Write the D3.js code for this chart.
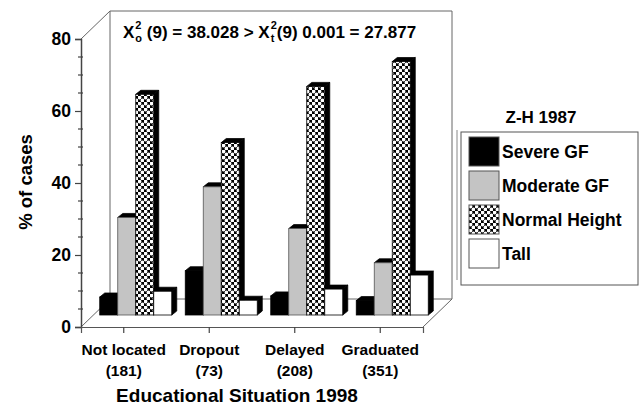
<!DOCTYPE html>
<html>
<head>
<meta charset="utf-8">
<script src="https://cdn.jsdelivr.net/npm/d3@7"></script>
<style>
    body { margin: 0; background: #fff; }
    text { font-family: "Liberation Sans", Arial, sans-serif; font-weight: bold; fill: #000; }
</style>
</head>
<body>
<div id="chart"></div>
<script>
// data
var groups = ['Not located', 'Dropout', 'Delayed', 'Graduated'];
var groupCounts = ['(181)', '(73)', '(208)', '(351)'];
var series = ['Severe GF', 'Moderate GF', 'Normal Height', 'Tall'];
var severeGF = [5.0, 12.3, 5.3, 4.0];
var moderateGF = [27.1, 35.6, 24.0, 14.5];
var normalHeight = [61.3, 47.9, 63.5, 70.4];
var tall = [6.6, 4.1, 7.2, 11.1];
var yTicks = [0, 20, 40, 60, 80];

var values = [severeGF, moderateGF, normalHeight, tall];

var width = 640,
    height = 406,
    left = 81,
    right = 423,
    wallDx = 29, wallDy = -28,   // depth of the floor / back wall
    barDx = 12, barDy = -12,     // where bars sit in depth
    depthX = 5, depthY = -4,     // thickness of each bar
    groupW = 72;

var svg = d3.select('#chart').append('svg').attr('width', width).attr('height', height);

var x = d3.scaleBand().domain(groups).range([left, right]);
var sub = d3.scaleBand().domain(series).range([0, groupW]);
var y = d3.scaleLinear().domain([0, 80]).range([327, 39]);

var defs = svg.append('defs');
var pat = defs.append('pattern')
    .attr('id', 'dots')
    .attr('patternUnits', 'userSpaceOnUse')
    .attr('width', 6).attr('height', 6);
pat.append('rect').attr('width', 6).attr('height', 6).attr('fill', '#000');
pat.append('circle').attr('cx', 1.5).attr('cy', 1.5).attr('r', 1.9).attr('fill', '#fff');
pat.append('circle').attr('cx', 4.5).attr('cy', 4.5).attr('r', 1.9).attr('fill', '#fff');

var fills = ['#000', '#c4c4c4', 'url(#dots)', '#fff'];

// floor and back wall
var wall = svg.append('g').attr('stroke', '#666').attr('stroke-width', 1).attr('fill', 'none');
var y0 = y(0), yTop = y(80);
wall.append('path').attr('d',
    'M' + left + ',' + y0 + 'L' + (left + wallDx) + ',' + (y0 + wallDy) +
    'L' + (right + wallDx) + ',' + (y0 + wallDy) + 'L' + right + ',' + y0);
wall.append('path').attr('d',
    'M' + left + ',' + yTop + 'L' + (left + wallDx) + ',' + (yTop + wallDy) +
    'L' + (right + wallDx) + ',' + (yTop + wallDy) + 'L' + (right + wallDx) + ',' + (y0 + wallDy));
wall.append('line')
    .attr('x1', left + wallDx).attr('y1', yTop + wallDy)
    .attr('x2', left + wallDx).attr('y2', y0 + wallDy);

// bars
var bars = svg.append('g').attr('stroke', '#000').attr('stroke-width', 0.8);
groups.forEach(function (g, gi) {
    var gx = x(g) + x.bandwidth() / 2 - groupW / 2 + barDx;
    series.forEach(function (s, si) {
        var v = values[si][gi];
        var x0 = gx + sub(s),
            x1 = x0 + sub.bandwidth(),
            yb = y(0) + barDy,
            yt = y(v) + barDy;
        bars.append('path')
            .attr('fill', '#000')
            .attr('d', 'M' + x1 + ',' + yt + 'L' + (x1 + depthX) + ',' + (yt + depthY) +
                'L' + (x1 + depthX) + ',' + (yb + depthY) + 'L' + x1 + ',' + yb + 'Z');
        bars.append('path')
            .attr('fill', '#000')
            .attr('d', 'M' + x0 + ',' + yt + 'L' + (x0 + depthX) + ',' + (yt + depthY) +
                'L' + (x1 + depthX) + ',' + (yt + depthY) + 'L' + x1 + ',' + yt + 'Z');
        bars.append('rect')
            .attr('x', x0).attr('y', yt)
            .attr('width', sub.bandwidth()).attr('height', yb - yt)
            .attr('fill', fills[si])
            .attr('stroke', si === 1 ? '#555' : '#000');
    });
});

// y axis
var yAxis = svg.append('g')
    .attr('transform', 'translate(' + left + ',0)')
    .call(d3.axisLeft(y).tickValues(yTicks).tickSize(6).tickPadding(4));
yAxis.select('.domain').attr('stroke', '#444').attr('stroke-width', 1.5);
yAxis.selectAll('.tick line').attr('stroke', '#444').attr('stroke-width', 1.2);
yAxis.selectAll('.tick text').attr('font-size', 17.5).attr('font-family', null);

svg.append('g').selectAll('line')
    .data(y.ticks(16).filter(function (d) { return yTicks.indexOf(d) < 0; }))
    .enter().append('line')
    .attr('x1', left - 3).attr('x2', left + 2)
    .attr('y1', function (d) { return y(d); })
    .attr('y2', function (d) { return y(d); })
    .attr('stroke', '#444').attr('stroke-width', 1.2);

// x axis
var xAxis = svg.append('g')
    .attr('transform', 'translate(0,' + y0 + ')')
    .call(d3.axisBottom(x).tickSize(6).tickFormat(''));
xAxis.select('.domain').attr('stroke', '#555').attr('stroke-width', 1.2);
xAxis.selectAll('.tick line').attr('stroke', '#444').attr('stroke-width', 1.2);

var xLab = svg.append('g').selectAll('text')
    .data(groups).enter().append('text')
    .attr('text-anchor', 'middle')
    .attr('font-size', 15.5)
    .attr('transform', function (d) { return 'translate(' + (x(d) + x.bandwidth() / 2) + ',355)'; });
xLab.append('tspan').attr('x', 0).text(function (d) { return d; });
xLab.append('tspan').attr('x', 0).attr('dy', 21).text(function (d, i) { return groupCounts[i]; });

svg.append('text')
    .attr('x', 237).attr('y', 402)
    .attr('text-anchor', 'middle')
    .attr('font-size', 19)
    .text('Educational Situation 1998');

svg.append('text')
    .attr('transform', 'translate(32,182) rotate(-90)')
    .attr('text-anchor', 'middle')
    .attr('font-size', 18.5)
    .text('% of cases');

// chi-square formula
var formula = [
    { t: 'X' },
    { sup: '2', sub: 'o' },
    { t: ' (9) = 38.028 > X' },
    { sup: '2', sub: 't' },
    { t: '(9) 0.001 = 27.877' }
];
var fx = 123, fy = 38;
var fG = svg.append('g');
formula.forEach(function (p) {
    if (p.t) {
        var t = fG.append('text').attr('x', fx).attr('y', fy).attr('font-size', 17)
            .attr('xml:space', 'preserve').style('white-space', 'pre').text(p.t);
        fx += t.node().getComputedTextLength();
    } else {
        var a = fG.append('text').attr('x', fx + 1).attr('y', fy - 9).attr('font-size', 11).text(p.sup);
        var b = fG.append('text').attr('x', fx + 1).attr('y', fy + 4).attr('font-size', 11).text(p.sub);
        fx += Math.max(a.node().getComputedTextLength(), b.node().getComputedTextLength()) + 1;
    }
});

// legend
svg.append('line')
    .attr('x1', 457).attr('x2', 457).attr('y1', 130).attr('y2', 280)
    .attr('stroke', '#888').attr('stroke-width', 1);
svg.append('text')
    .attr('x', 541).attr('y', 123)
    .attr('text-anchor', 'middle')
    .attr('font-size', 17)
    .text('Z-H 1987');
svg.append('rect')
    .attr('x', 461).attr('y', 132).attr('width', 177).attr('height', 153)
    .attr('fill', 'none').attr('stroke', '#555').attr('stroke-width', 1);

var leg = svg.append('g').selectAll('g')
    .data(series).enter().append('g')
    .attr('transform', function (d, i) { return 'translate(469,' + (137 + i * 34) + ')'; });
leg.append('rect')
    .attr('width', 30).attr('height', 29)
    .attr('fill', function (d, i) { return fills[i]; })
    .attr('stroke', '#555').attr('stroke-width', 1);
leg.append('text')
    .attr('x', 33).attr('y', 15).attr('dy', '0.35em')
    .attr('font-size', 17.5)
    .text(function (d) { return d; });
</script>
</body>
</html>
